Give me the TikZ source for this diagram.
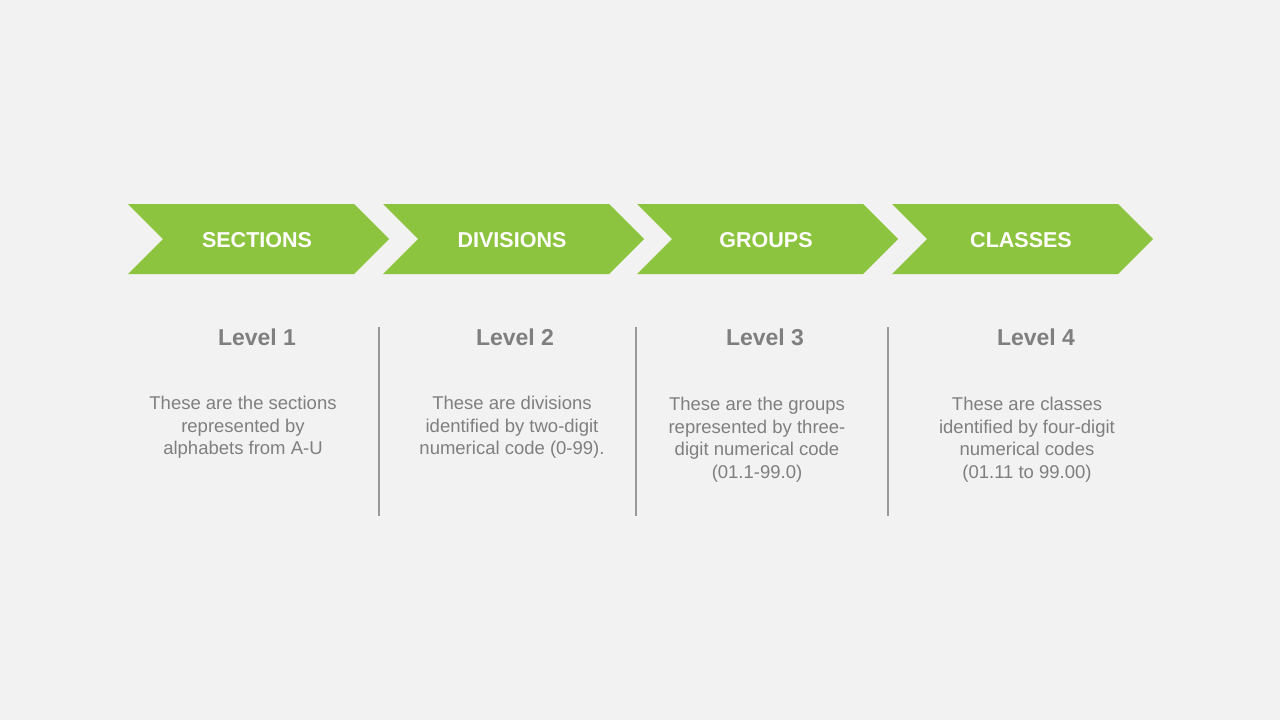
\documentclass[tikz,border=0pt]{standalone}
\usepackage{fontspec}
\setmainfont{Liberation Sans}
\definecolor{bg}{HTML}{F2F2F2}
\definecolor{grn}{HTML}{8DC43F}
\definecolor{txt}{HTML}{7F7F7F}
\begin{document}
\begin{tikzpicture}[x=1pt,y=-1pt,
  chev/.style={fill=grn,draw=none},
  head/.style={text=white,font=\fontsize{21.5}{25}\selectfont\bfseries},
  lvl/.style={text=txt,font=\fontsize{23}{27}\selectfont\bfseries},
  body/.style={text=txt,font=\fontsize{18.5}{22.5}\selectfont,align=center},
  sep/.style={draw=gray!80,line width=2.5pt}]
\fill[bg] (0,0) rectangle (1280,720);
\useasboundingbox (0,0) rectangle (1280,720);
\foreach \x/\t/\n in {128/SECTIONS/a,383/DIVISIONS/b,637/GROUPS/c,892/CLASSES/d}{
  \fill[chev] (\x,204) -- (\x+226,204) -- (\x+261,239) -- (\x+226,274) -- (\x,274) -- (\x+35,239) -- cycle;
  \node[head] (h\n) at (\x+129,240) {\t};
}
\node[lvl] (l1) at (257,337) {Level 1};
\node[lvl] (l2) at (515,337) {Level 2};
\node[lvl] (l3) at (765,337) {Level 3};
\node[lvl] (l4) at (1036,337) {Level 4};
\node[body,anchor=north] (b1) at (243,393) {These are the sections\\represented by\\alphabets from A-U};
\node[body,anchor=north] (b2) at (512,393) {These are divisions\\identified by two-digit\\numerical code (0-99).};
\node[body,anchor=north] (b3) at (757,394) {These are the groups\\represented by three-\\digit numerical code\\(01.1-99.0)};
\node[body,anchor=north] (b4) at (1027,394) {These are classes\\identified by four-digit\\numerical codes\\(01.11 to 99.00)};
\coordinate (s1t) at (379,327); \coordinate (s1b) at (379,516);
\coordinate (s2t) at (636,327); \coordinate (s2b) at (636,516);
\coordinate (s3t) at (888,327); \coordinate (s3b) at (888,516);
\draw[sep] (s1t) -- (s1b);
\draw[sep] (s2t) -- (s2b);
\draw[sep] (s3t) -- (s3b);
\end{tikzpicture}
\end{document}
